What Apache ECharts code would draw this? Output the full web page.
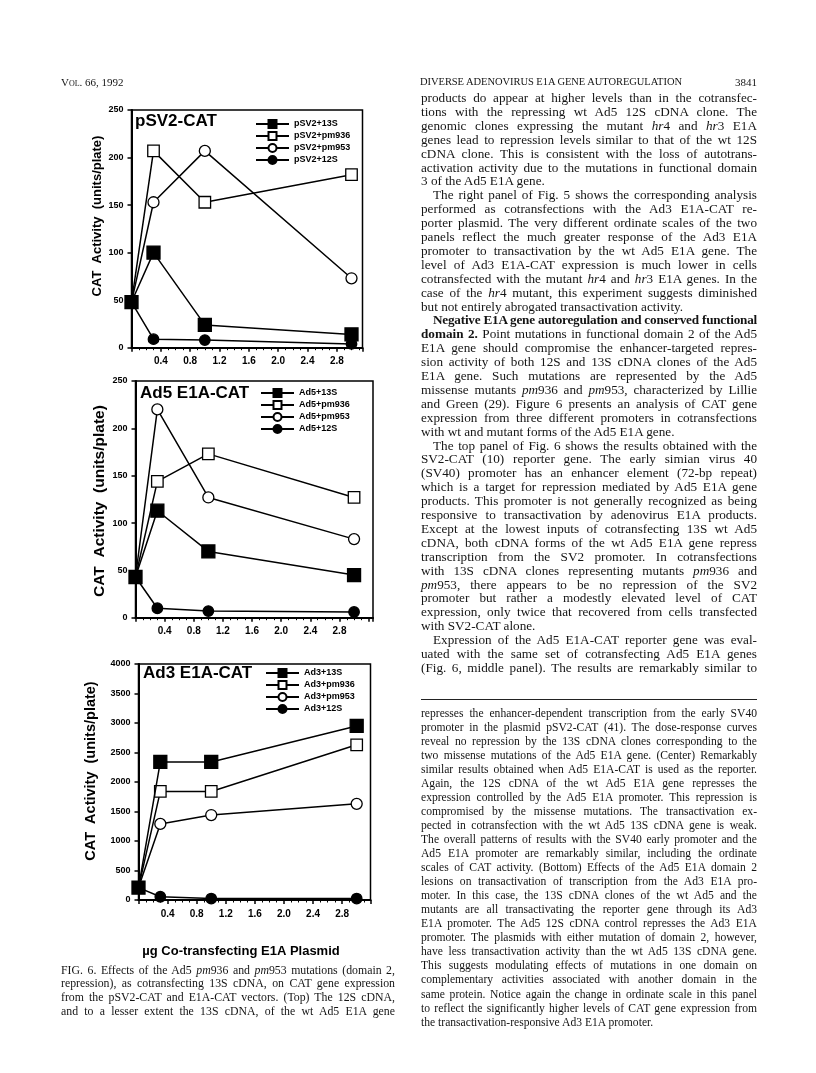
<!DOCTYPE html>
<html><head><meta charset="utf-8">
<script src="https://cdn.jsdelivr.net/npm/echarts@6/dist/echarts.min.js"></script>
<style>
html,body{margin:0;padding:0;background:#fff;}
#page{position:relative;width:816px;height:1073px;overflow:hidden;background:#fff;}
#chart{position:absolute;left:0;top:0;width:816px;height:1073px;}
.ln{position:absolute;white-space:nowrap;font-family:"Liberation Serif","DejaVu Serif",serif;color:#141414;}
.rule{position:absolute;height:1px;background:#222;}
</style></head><body><div id="page"><div id="chart"></div></div>
<script>
// ---------- data ----------
const xDose = [0, 0.3, 1, 3];
const xTickLabels = ['0.4','0.8','1.2','1.6','2.0','2.4','2.8'];
const seriesKinds = ['13S','pm936','pm953','12S'];

const pSV2_13S   = [48, 100, 24, 14];
const pSV2_pm936 = [48, 207, 153, 182];
const pSV2_pm953 = [48, 153, 207, 73];
const pSV2_12S   = [48, 9, 8, 4];

const ad5_13S   = [43, 113, 70, 45];
const ad5_pm936 = [43, 144, 173, 127];
const ad5_pm953 = [43, 220, 127, 83];
const ad5_12S   = [43, 10, 7, 6];

const ad3_13S   = [210, 2340, 2340, 2950];
const ad3_pm936 = [210, 1840, 1840, 2630];
const ad3_pm953 = [210, 1290, 1440, 1630];
const ad3_12S   = [210, 55, 25, 25];

const panelTitles = ['pSV2-CAT', 'Ad5 E1A-CAT', 'Ad3 E1A-CAT'];
const panelPrefixes = ['pSV2', 'Ad5', 'Ad3'];
const yAxisTitle = 'CAT  Activity  (units/plate)';
const xAxisTitle = 'µg Co-transfecting E1A Plasmid';

// ---------- page text ----------
const headerLeft = 'Vol. 66, 1992';
const headerRight = 'DIVERSE ADENOVIRUS E1A GENE AUTOREGULATION';
const pageNumber = '3841';

const bodyLines = [
 'products do appear at higher levels than in the cotransfec-',
 'tions with the repressing wt Ad5 12S cDNA clone. The',
 'genomic clones expressing the mutant <i>hr</i>4 and <i>hr</i>3 E1A',
 'genes lead to repression levels similar to that of the wt 12S',
 'cDNA clone. This is consistent with the loss of autotrans-',
 'activation activity due to the mutations in functional domain',
 '3 of the Ad5 E1A gene.|',
 '\tThe right panel of Fig. 5 shows the corresponding analysis',
 'performed as cotransfections with the Ad3 E1A-CAT re-',
 'porter plasmid. The very different ordinate scales of the two',
 'panels reflect the much greater response of the Ad3 E1A',
 'promoter to transactivation by the wt Ad5 E1A gene. The',
 'level of Ad3 E1A-CAT expression is much lower in cells',
 'cotransfected with the mutant <i>hr</i>4 and <i>hr</i>3 E1A genes. In the',
 'case of the <i>hr</i>4 mutant, this experiment suggests diminished',
 'but not entirely abrogated transactivation activity.|',
 '\t<b>Negative E1A gene autoregulation and conserved functional</b>',
 '<b>domain 2.</b> Point mutations in functional domain 2 of the Ad5',
 'E1A gene should compromise the enhancer-targeted repres-',
 'sion activity of both 12S and 13S cDNA clones of the Ad5',
 'E1A gene. Such mutations are represented by the Ad5',
 'missense mutants <i>pm</i>936 and <i>pm</i>953, characterized by Lillie',
 'and Green (29). Figure 6 presents an analysis of CAT gene',
 'expression from three different promoters in cotransfections',
 'with wt and mutant forms of the Ad5 E1A gene.|',
 '\tThe top panel of Fig. 6 shows the results obtained with the',
 'SV2-CAT (10) reporter gene. The early simian virus 40',
 '(SV40) promoter has an enhancer element (72-bp repeat)',
 'which is a target for repression mediated by Ad5 E1A gene',
 'products. This promoter is not generally recognized as being',
 'responsive to transactivation by adenovirus E1A products.',
 'Except at the lowest inputs of cotransfecting 13S wt Ad5',
 'cDNA, both cDNA forms of the wt Ad5 E1A gene repress',
 'transcription from the SV2 promoter. In cotransfections',
 'with 13S cDNA clones representing mutants <i>pm</i>936 and',
 '<i>pm</i>953, there appears to be no repression of the SV2',
 'promoter but rather a modestly elevated level of CAT',
 'expression, only twice that recovered from cells transfected',
 'with SV2-CAT alone.|',
 '\tExpression of the Ad5 E1A-CAT reporter gene was eval-',
 'uated with the same set of cotransfecting Ad5 E1A genes',
 '(Fig. 6, middle panel). The results are remarkably similar to'
];

const captionLeftLines = [
 'FIG. 6. Effects of the Ad5 <i>pm</i>936 and <i>pm</i>953 mutations (domain 2,',
 'repression), as cotransfecting 13S cDNA, on CAT gene expression',
 'from the pSV2-CAT and E1A-CAT vectors. (Top) The 12S cDNA,',
 'and to a lesser extent the 13S cDNA, of the wt Ad5 E1A gene'
];

const captionRightLines = [
 'represses the enhancer-dependent transcription from the early SV40',
 'promoter in the plasmid pSV2-CAT (41). The dose-response curves',
 'reveal no repression by the 13S cDNA clones corresponding to the',
 'two missense mutations of the Ad5 E1A gene. (Center) Remarkably',
 'similar results obtained when Ad5 E1A-CAT is used as the reporter.',
 'Again, the 12S cDNA of the wt Ad5 E1A gene represses the',
 'expression controlled by the Ad5 E1A promoter. This repression is',
 'compromised by the missense mutations. The transactivation ex-',
 'pected in cotransfection with the wt Ad5 13S cDNA gene is weak.',
 'The overall patterns of results with the SV40 early promoter and the',
 'Ad5 E1A promoter are remarkably similar, including the ordinate',
 'scales of CAT activity. (Bottom) Effects of the Ad5 E1A domain 2',
 'lesions on transactivation of transcription from the Ad3 E1A pro-',
 'moter. In this case, the 13S cDNA clones of the wt Ad5 and the',
 'mutants are all transactivating the reporter gene through its Ad3',
 'E1A promoter. The Ad5 12S cDNA control represses the Ad3 E1A',
 'promoter. The plasmids with either mutation of domain 2, however,',
 'have less transactivation activity than the wt Ad5 13S cDNA gene.',
 'This suggests modulating effects of mutations in one domain on',
 'complementary activities associated with another domain in the',
 'same protein. Notice again the change in ordinate scale in this panel',
 'to reflect the significantly higher levels of CAT gene expression from',
 'the transactivation-responsive Ad3 E1A promoter.|'
];

// ---------- text layout ----------
const page = document.getElementById('page');
function addText(html, x, yc, fs, opts) {
  opts = opts || {};
  const d = document.createElement('div');
  d.className = 'ln';
  d.style.fontSize = fs + 'px';
  d.style.lineHeight = Math.round(fs * 1.3) + 'px';
  d.innerHTML = html;
  if (opts.smallcaps) d.style.fontVariant = 'small-caps';
  page.appendChild(d);
  const r = d.getBoundingClientRect();
  d.style.top = (yc - r.height / 2) + 'px';
  if (opts.right) d.style.left = (x - r.width) + 'px'; else d.style.left = x + 'px';
  return d;
}
function fitWidth(d, W, justify) {
  const w = d.getBoundingClientRect().width;
  const n = (d.textContent.match(/ /g) || []).length;
  const len = d.textContent.length;
  if (justify && n > 0) {
    const ws = (W - w) / n;
    if (ws >= -0.8) { d.style.wordSpacing = ws + 'px'; }
    else {
      // too wide: compress letters instead of collapsing the word gaps
      d.style.letterSpacing = ((W - w) / len) + 'px';
      const w2 = d.getBoundingClientRect().width;
      d.style.wordSpacing = ((W - w2) / n) + 'px';
    }
  } else if (w > W) d.style.letterSpacing = ((W - w) / len) + 'px';
}
function placeLines(lines, x, y0, lh, W, fs, indent) {
  lines.forEach((s, i) => {
    let ind = 0, last = false;
    if (s.startsWith('\t')) { ind = indent; s = s.slice(1); }
    if (s.endsWith('|')) { last = true; s = s.slice(0, -1); }
    const d = addText(s, x + ind, y0 + i * lh, fs);
    fitWidth(d, W - ind, !last);
  });
}

addText(headerLeft, 61, 82, 11, {smallcaps: true});
const hr = addText(headerRight, 420, 82, 10.5);
fitWidth(hr, 262, false);
addText(pageNumber, 757, 82, 11, {right: true});

placeLines(bodyLines, 421, 97.5, 13.9, 336, 13.2, 12);
const rule = document.createElement('div');
rule.className = 'rule';
rule.style.left = '421px'; rule.style.top = '699px'; rule.style.width = '336px';
page.appendChild(rule);
placeLines(captionRightLines, 421, 713, 14.05, 336, 11.6, 10);
placeLines(captionLeftLines, 61, 970, 13.7, 334, 11.8, 10);

// ---------- chart ----------
const chart = echarts.init(document.getElementById('chart'), null, {renderer: 'canvas'});
const FONT = '"Liberation Sans", Arial, Helvetica, sans-serif';

const grids = [
  {left: 131.5, top: 110, width: 231, height: 237.7},
  {left: 135.5, top: 381, width: 237.5, height: 236.7},
  {left: 138.5, top: 664, width: 232, height: 236}
];
const xMax = [3.15, 3.26, 3.19];
const yMax = [250, 250, 4000];
const yInterval = [50, 50, 500];
const panelData = [
  [pSV2_13S, pSV2_pm936, pSV2_pm953, pSV2_12S],
  [ad5_13S, ad5_pm936, ad5_pm953, ad5_12S],
  [ad3_13S, ad3_pm936, ad3_pm953, ad3_12S]
];
const legendPos = [{left: 255, top: 119}, {left: 260, top: 388}, {left: 265, top: 668}];
const yTitlePos = [{x: 97, y: 216, fs: 13}, {x: 100, y: 501, fs: 15.5}, {x: 91, y: 771, fs: 14.5}];
const titlePos = [{x: 135, y: 121}, {x: 140, y: 393}, {x: 143, y: 673}];

const symbolDefs = {
  '13S':   {symbol: 'rect',   size: 13, fill: '#000'},
  'pm936': {symbol: 'rect',   size: 11.5, fill: '#fff'},
  'pm953': {symbol: 'circle', size: 11, fill: '#fff'},
  '12S':   {symbol: 'circle', size: 10.5, fill: '#000'}
};

const xAxes = [], yAxes = [], series = [], legends = [], graphics = [];
grids.forEach((g, gi) => {
  xAxes.push({
    gridIndex: gi, type: 'value', min: 0, max: xMax[gi], interval: 0.4,
    axisLine: {lineStyle: {color: '#000', width: 2}},
    axisTick: {show: true, length: 4, lineStyle: {color: '#000', width: 1.5}},
    minorTick: {show: true, splitNumber: 4, length: 2.5, lineStyle: {color: '#000', width: 1}},
    splitLine: {show: false},
    axisLabel: {
      showMinLabel: false, showMaxLabel: false, margin: 9,
      color: '#000', fontSize: 10, fontWeight: 'bold', fontFamily: FONT,
      formatter: v => {
        const s = (Math.round(v * 10) / 10).toFixed(1);
        return xTickLabels.indexOf(s) >= 0 ? s : '';
      }
    }
  });
  yAxes.push({
    gridIndex: gi, type: 'value', min: 0, max: yMax[gi], interval: yInterval[gi],
    axisLine: {show: true, lineStyle: {color: '#000', width: 2}},
    axisTick: {show: true, length: 4, lineStyle: {color: '#000', width: 1.5}},
    splitLine: {show: false},
    axisLabel: {margin: 8, color: '#000', fontSize: 9, fontWeight: 'bold', fontFamily: FONT,
      formatter: v => String(Math.round(v))}
  });
  const names = seriesKinds.map(k => panelPrefixes[gi] + '+' + k);
  [3, 2, 1, 0].forEach(k => {
    const sd = symbolDefs[seriesKinds[k]];
    series.push({
      name: names[k], type: 'line', xAxisIndex: gi, yAxisIndex: gi,
      data: xDose.map((x, i) => [x, panelData[gi][k][i]]),
      symbol: sd.symbol, symbolSize: sd.size, showAllSymbol: true,
      lineStyle: {color: '#000', width: 1.5},
      itemStyle: {color: sd.fill, borderColor: '#000', borderWidth: 1.3, opacity: 1},
      emphasis: {disabled: true}, clip: false, animation: false, z: 3 + (3 - k)
    });
  });
  legends.push({
    data: names, orient: 'vertical', left: legendPos[gi].left, top: legendPos[gi].top,
    itemWidth: 33, itemHeight: 10, itemGap: 2, padding: 0, selectedMode: false,
    textStyle: {color: '#000', fontSize: 9, fontWeight: 'bold', fontFamily: FONT}
  });
  graphics.push({
    type: 'text', x: titlePos[gi].x, y: titlePos[gi].y, silent: true,
    style: {text: panelTitles[gi], fill: '#000', font: 'bold 17px ' + FONT,
      textAlign: 'left', textVerticalAlign: 'middle', align: 'left', verticalAlign: 'middle'}
  });
  graphics.push({
    type: 'text', x: yTitlePos[gi].x, y: yTitlePos[gi].y, rotation: Math.PI / 2, silent: true,
    style: {text: yAxisTitle, fill: '#000', font: 'bold ' + yTitlePos[gi].fs + 'px ' + FONT,
      textAlign: 'center', textVerticalAlign: 'middle', align: 'center', verticalAlign: 'middle'}
  });
});
graphics.push({
  type: 'text', x: 241, y: 951, silent: true,
  style: {text: xAxisTitle, fill: '#000', font: 'bold 13px ' + FONT,
    textAlign: 'center', textVerticalAlign: 'middle', align: 'center', verticalAlign: 'middle'}
});

chart.setOption({
  animation: false,
  backgroundColor: '#fff',
  grid: grids.map(g => Object.assign({show: true, borderColor: '#000', borderWidth: 1.5, backgroundColor: 'transparent', containLabel: false}, g)),
  xAxis: xAxes,
  yAxis: yAxes,
  legend: legends,
  series: series,
  graphic: graphics
});
</script>
</body></html>
